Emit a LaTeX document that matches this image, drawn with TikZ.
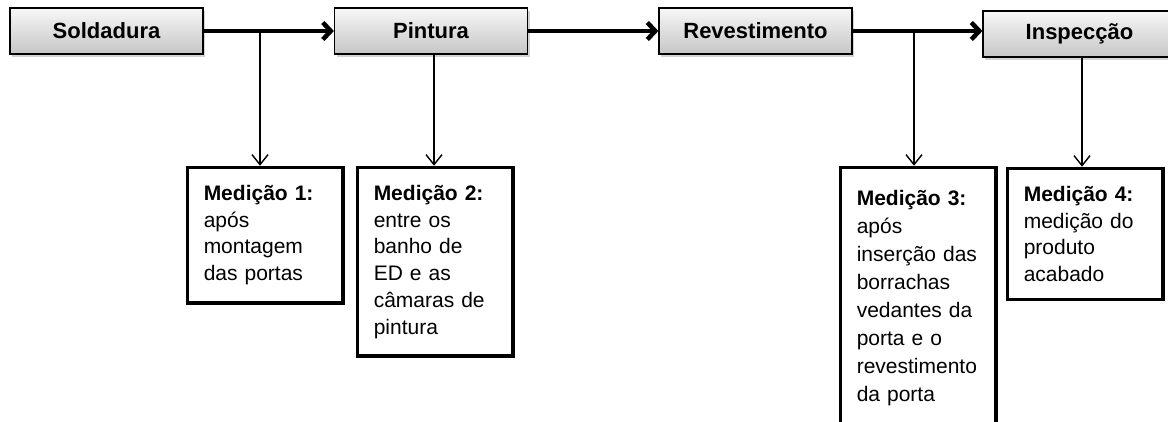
\documentclass[tikz,border=0pt]{standalone}
\usepackage{fontspec}
\setmainfont{Liberation Sans}
\usepackage{tikz}
\usetikzlibrary{arrows.meta}
\usetikzlibrary{calc}
\usetikzlibrary{shadows}

\tikzset{
    stagebox/.style={draw, line width=1.2pt, minimum width=193pt, minimum height=46pt,
        top color=gray!6, bottom color=gray!45,
        drop shadow={shadow xshift=2pt, shadow yshift=-3pt, opacity=0.35},
        font=\bfseries\fontsize{22}{26}\selectfont},
    measbox/.style={draw, line width=3.5pt, anchor=north west, fill=white,
        text width=123pt, align=left, inner xsep=16.25pt, inner ysep=17.8pt,
        font=\fontsize{21}{26.7}\selectfont},
    flowarrow/.style={line width=4.5pt, -{Straight Barb[length=8pt,width=17pt]}},
    measarrow/.style={line width=1.4pt, -{Straight Barb[length=10pt,width=16pt]}}
}

\begin{document}
\begin{tikzpicture}[x=1pt, y=-1pt]
        \useasboundingbox (0,0) rectangle (1168,421);
        \newcommand{\figstageliney}{31}
        % process stages
        \node[stagebox] (sold) at (106.5,\figstageliney) {Soldadura};
        \node[stagebox] (pint) at (431,\figstageliney) {Pintura};
        \node[stagebox] (rev) at (755.5,\figstageliney) {Revestimento};
        \node[stagebox] (insp) at (1079.5,34) {Inspecção};
        \draw[flowarrow] (sold) -- (pint);
        \draw[flowarrow] (pint) -- (rev);
        \draw[flowarrow] (rev.east) -- (insp.west |- rev.east);
        % measuring points
        \node[measbox] (med1) at (185.75,165.75) {\textbf{Medição 1:}\\após\\montagem\\das portas};
        \node[measbox] (med2) at (355.75,165.75) {\textbf{Medição 2:}\\entre os\\banho de\\ED e as\\câmaras de\\pintura};
        \node[measbox, inner ysep=23pt, text depth=225pt,
            font=\fontsize{21}{28}\selectfont] (med3) at (838.75,165.75) {\textbf{Medição 3:}\\após\\inserção das\\borrachas\\vedantes da\\porta e o\\revestimento\\da porta};
        \node[measbox] (med4) at (1005.75,166.75) {\textbf{Medição 4:}\\medição do\\produto\\acabado};
        \coordinate (tap1) at (260,\figstageliney);
        \coordinate (tap3) at (914,\figstageliney);
        \draw[measarrow] (tap1) -- (tap1 |- med1.north);
        \draw[measarrow] ([xshift=3pt]pint.south) -- ([xshift=3pt]pint.south |- med2.north);
        \draw[measarrow] (tap3) -- (tap3 |- med3.north);
        \draw[measarrow] ([xshift=2.5pt]insp.south) -- ([xshift=2.5pt]insp.south |- med4.north);
    \end{tikzpicture}
\end{document}
